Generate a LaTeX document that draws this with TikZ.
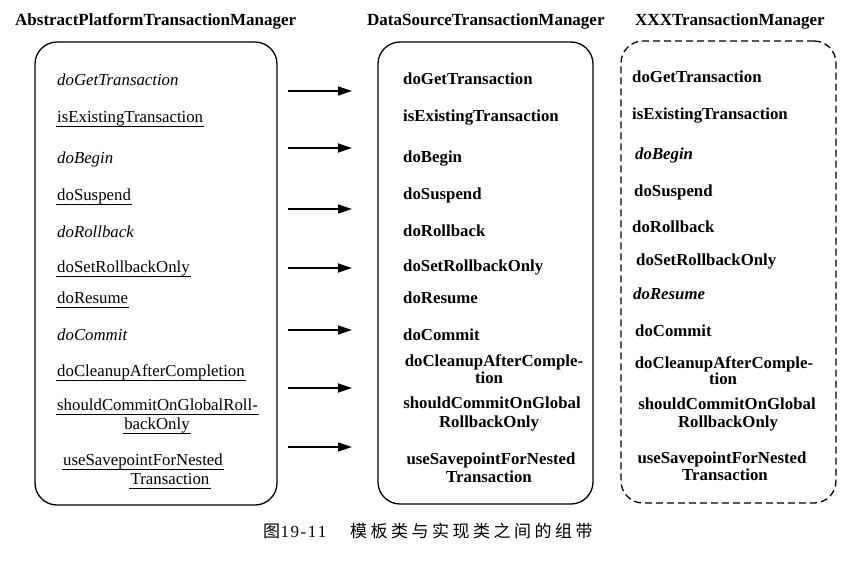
\documentclass[tikz,border=0pt]{standalone}
\usepackage{fontspec}
\setmainfont{Liberation Serif}
\newfontfamily\cjk{Noto Sans CJK SC}
\usetikzlibrary{arrows.meta}
\tikzset{
  itemfont/.style={font=\fontsize{16.8}{19}\selectfont},
  itm/.style={itemfont, anchor=base west, inner sep=0pt},
  itmc/.style={itemfont, anchor=base, inner sep=0pt},
  bitm/.style={itm, font=\fontsize{16.8}{19}\selectfont\bfseries},
  bitmc/.style={itmc, font=\fontsize{16.8}{19}\selectfont\bfseries},
  ttl/.style={anchor=base west, inner sep=0pt, font=\fontsize{17}{19}\selectfont\bfseries},
  classbox/.style={draw, line width=1.3pt, rounded corners=22pt, inner sep=0pt},
  ifacebox/.style={classbox, dash pattern=on 7pt off 4pt},
  uline/.style={line width=0.9pt},
  link/.style={line width=1.3pt, -{Triangle[length=14pt,width=9pt]}},
}
\newcommand{\ulnode}[1]{\draw[uline] ([yshift=-4.5pt,xshift=-1pt]#1.base west) -- ([yshift=-4.5pt,xshift=1pt]#1.base east);}
\begin{document}
\begin{tikzpicture}[x=1pt,y=-1pt]
\useasboundingbox (0,0) rectangle (859,570);
\fill[white] (0,0) rectangle (859,570);

% titles
\node[ttl] (t1) at (15,25) {AbstractPlatformTransactionManager};
\node[ttl] (t2) at (367,25) {DataSourceTransactionManager};
\node[ttl] (t3) at (635,25) {XXXTransactionManager};

% boxes
\node[classbox, minimum width=242pt, minimum height=463pt] (B1) at (156,273.5) {};
\node[classbox, minimum width=215pt, minimum height=462pt] (B2) at (485.5,273) {};
\node[ifacebox, minimum width=215pt, minimum height=462pt] (B3) at (728.5,272) {};

% left column
\node[itm, font=\fontsize{16.8}{19}\selectfont\itshape] (L1) at (57,85) {doGetTransaction};
\node[itm] (L2) at (57,122) {isExistingTransaction};
\node[itm, font=\fontsize{16.8}{19}\selectfont\itshape] (L3) at (57,163) {doBegin};
\node[itm] (L4) at (57,200) {doSuspend};
\node[itm, font=\fontsize{16.8}{19}\selectfont\itshape] (L5) at (57,237) {doRollback};
\node[itm] (L6) at (57,272) {doSetRollbackOnly};
\node[itm] (L7) at (57,303) {doResume};
\node[itm, font=\fontsize{16.8}{19}\selectfont\itshape] (L8) at (57,340) {doCommit};
\node[itm] (L9) at (57,376) {doCleanupAfterCompletion};
\node[itm] (L10a) at (57,410) {shouldCommitOnGlobalRoll-};
\node[itmc] (L10b) at (157,429) {backOnly};
\node[itm] (L11a) at (63,465) {useSavepointForNested};
\node[itmc] (L11b) at (170,484) {Transaction};
\ulnode{L2}\ulnode{L4}\ulnode{L6}\ulnode{L7}\ulnode{L9}
\ulnode{L10a}\ulnode{L10b}\ulnode{L11a}\ulnode{L11b}

% middle column
\node[bitm] (M1) at (403,84) {doGetTransaction};
\node[bitm] (M2) at (403,121) {isExistingTransaction};
\node[bitm] (M3) at (403,162) {doBegin};
\node[bitm] (M4) at (403,199) {doSuspend};
\node[bitm] (M5) at (403,236) {doRollback};
\node[bitm] (M6) at (403,271) {doSetRollbackOnly};
\node[bitm] (M7) at (403,303) {doResume};
\node[bitm] (M8) at (403,340) {doCommit};
\node[bitmc] (M9a) at (494,366) {doCleanupAfterComple-};
\node[bitmc] (M9b) at (489,383) {tion};
\node[bitmc] (M10a) at (492,408) {shouldCommitOnGlobal};
\node[bitmc] (M10b) at (489,427) {RollbackOnly};
\node[bitmc] (M11a) at (491,464) {useSavepointForNested};
\node[bitmc] (M11b) at (489,482) {Transaction};

% right column
\node[bitm] (R1) at (632,82) {doGetTransaction};
\node[bitm] (R2) at (632,119) {isExistingTransaction};
\node[bitm, font=\fontsize{16.8}{19}\selectfont\bfseries\itshape] (R3) at (635,159) {doBegin};
\node[bitm] (R4) at (634,196) {doSuspend};
\node[bitm] (R5) at (632,232) {doRollback};
\node[bitm] (R6) at (636,265) {doSetRollbackOnly};
\node[bitm, font=\fontsize{16.8}{19}\selectfont\bfseries\itshape] (R7) at (633,299) {doResume};
\node[bitm] (R8) at (635,336) {doCommit};
\node[bitmc] (R9a) at (724,368) {doCleanupAfterComple-};
\node[bitmc] (R9b) at (723,384) {tion};
\node[bitmc] (R10a) at (727,409) {shouldCommitOnGlobal};
\node[bitmc] (R10b) at (728,427) {RollbackOnly};
\node[bitmc] (R11a) at (722,463) {useSavepointForNested};
\node[bitmc] (R11b) at (725,480) {Transaction};

% arrows
\foreach \i/\y in {1/91,2/148,3/209,4/268,5/330,6/388,7/447}{
  \coordinate (as\i) at (288,\y);
  \coordinate (ae\i) at (352,\y);
  \draw[link] (as\i) -- (ae\i);
}

% caption
\node[anchor=base west, inner sep=0pt, font=\fontsize{17}{20}\selectfont] (cap1) at (263,537)
  {{\cjk 图}\kern0.5pt 1\kern1.5pt 9\kern1.5pt -\kern1.5pt 1\kern1.5pt 1};
\node[anchor=base west, inner sep=0pt, font=\fontsize{17}{20}\selectfont\cjk] (cap2) at (350,537)
  {模\kern3.5pt 板\kern3.5pt 类\kern3.5pt 与\kern3.5pt 实\kern3.5pt 现\kern3.5pt 类\kern3.5pt 之\kern3.5pt 间\kern3.5pt 的\kern3.5pt 组\kern3.5pt 带};
\end{tikzpicture}
\end{document}
